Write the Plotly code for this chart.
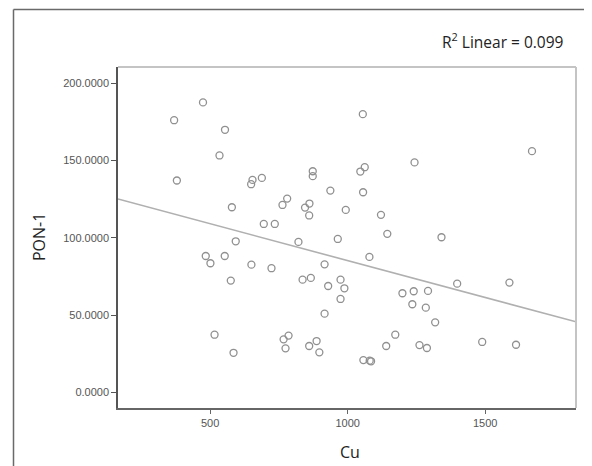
import plotly.graph_objects as go

# Scatter data (Cu vs PON-1)
cu = [474, 369, 554, 534, 379, 654, 649, 688, 873, 873, 937, 780, 763, 579, 861, 845,
      860, 993, 695, 735, 593, 821, 964,
      1055, 1670, 1243, 1062, 1046, 1056, 1121, 1144, 1341,
      484, 553, 501, 650, 723, 916, 575, 836, 866, 974, 929, 988, 974, 916,
      516, 785, 767, 774, 887, 860, 897, 585,
      1079, 1398, 1588, 1199, 1240, 1292, 1235, 1284, 1318, 1173, 1140, 1261, 1288,
      1489, 1612, 1057, 1085, 1080]
pon1 = [187.5, 176, 169.8, 153.2, 137, 137.4, 134.6, 138.7, 143, 139.8, 130.5, 125.3, 121.2, 119.7, 122.1, 119.5,
        114.4, 118, 108.9, 108.9, 97.7, 97.3, 99.2,
        179.9, 156, 148.7, 145.6, 142.8, 129.4, 114.8, 102.5, 100.3,
        88.2, 88.2, 83.5, 82.6, 80.3, 82.8, 72.3, 72.9, 74, 72.9, 68.8, 67.3, 60.4, 50.9,
        37.3, 36.7, 34.3, 28.5, 33.2, 30, 25.9, 25.6,
        87.6, 70.3, 71, 64.1, 65.4, 65.6, 57, 54.8, 45.3, 37.3, 30, 30.6, 28.7,
        32.6, 30.8, 20.9, 20.1, 20.5]

# Fit line
fit_intercept = 132.9
fit_slope = -0.0477
x_range = [165, 1830]
y_range = [-10.1, 210.4]

x_ticks = [500, 1000, 1500]
y_ticks = [0, 50, 100, 150, 200]
r2_text = "R<sup>2</sup> Linear = 0.099"

fig = go.Figure()
fig.add_trace(go.Scatter(
    x=x_range, y=[fit_intercept + fit_slope * v for v in x_range],
    mode="lines", line=dict(color="#b0b0b0", width=1.6),
    hoverinfo="skip", showlegend=False))
fig.add_trace(go.Scatter(
    x=cu, y=pon1, mode="markers",
    marker=dict(symbol="circle-open", size=7, color="#909090", line=dict(width=1.3)),
    showlegend=False))

# the page body adds an 8px margin, so the figure is laid out 8px up/left
OFF = 8
W, H = 592 - OFF, 466 - OFF
L, T = 118 - OFF, 67 - OFF
R = W - (576 - OFF)
B = H - (408 - OFF)
pw, ph = W - L - R, H - T - B

def px(xp):
    return (xp - OFF - L) / pw

def py(yp):
    return (H - B - (yp - OFF)) / ph

fig.update_layout(
    width=W, height=H,
    margin=dict(l=L, r=R, t=T, b=B),
    paper_bgcolor="white", plot_bgcolor="white",
    xaxis=dict(range=x_range, tickvals=x_ticks, showgrid=False, zeroline=False,
               showline=True, linecolor="#666", linewidth=1.5,
               ticks="outside", ticklen=4, tickcolor="#666", tickwidth=1,
               tickfont=dict(family="Liberation Sans, Arial", size=11, color="#555")),
    yaxis=dict(range=y_range, tickvals=y_ticks, tickformat=".4f", showgrid=False, zeroline=False,
               showline=True, linecolor="#555", linewidth=1.5,
               ticks="outside", ticklen=5, tickcolor="#555", tickwidth=1,
               tickfont=dict(family="Liberation Sans, Arial", size=11, color="#555")),
    shapes=[
        # light top and right plot frame
        dict(type="line", xref="paper", yref="paper", x0=0, x1=1, y0=1, y1=1,
             line=dict(color="#c4c4c4", width=2)),
        dict(type="line", xref="paper", yref="paper", x0=1, x1=1, y0=0, y1=1,
             line=dict(color="#c4c4c4", width=2)),
        # outer frame
        dict(type="line", xref="paper", yref="paper", x0=px(13.5), x1=px(600), y0=py(9.5), y1=py(9.5),
             line=dict(color="#6a6a6a", width=1.5)),
        dict(type="line", xref="paper", yref="paper", x0=px(13.5), x1=px(13.5), y0=py(9.5), y1=py(466),
             line=dict(color="#6a6a6a", width=1.5)),
    ],
    annotations=[
        dict(text=r2_text, xref="paper", yref="paper", x=px(566), y=py(41),
             xanchor="right", yanchor="middle", showarrow=False,
             font=dict(family="Open Sans", size=15.5, color="#222")),
        dict(text="PON-1", xref="paper", yref="paper", x=px(39), y=py(237),
             xanchor="center", yanchor="middle", textangle=-90, showarrow=False,
             font=dict(family="Open Sans", size=16, color="#222")),
        dict(text="Cu", xref="paper", yref="paper", x=px(350), y=py(452),
             xanchor="center", yanchor="middle", showarrow=False,
             font=dict(family="Open Sans", size=16, color="#222")),
    ],
)

fig.write_html("out.html")
